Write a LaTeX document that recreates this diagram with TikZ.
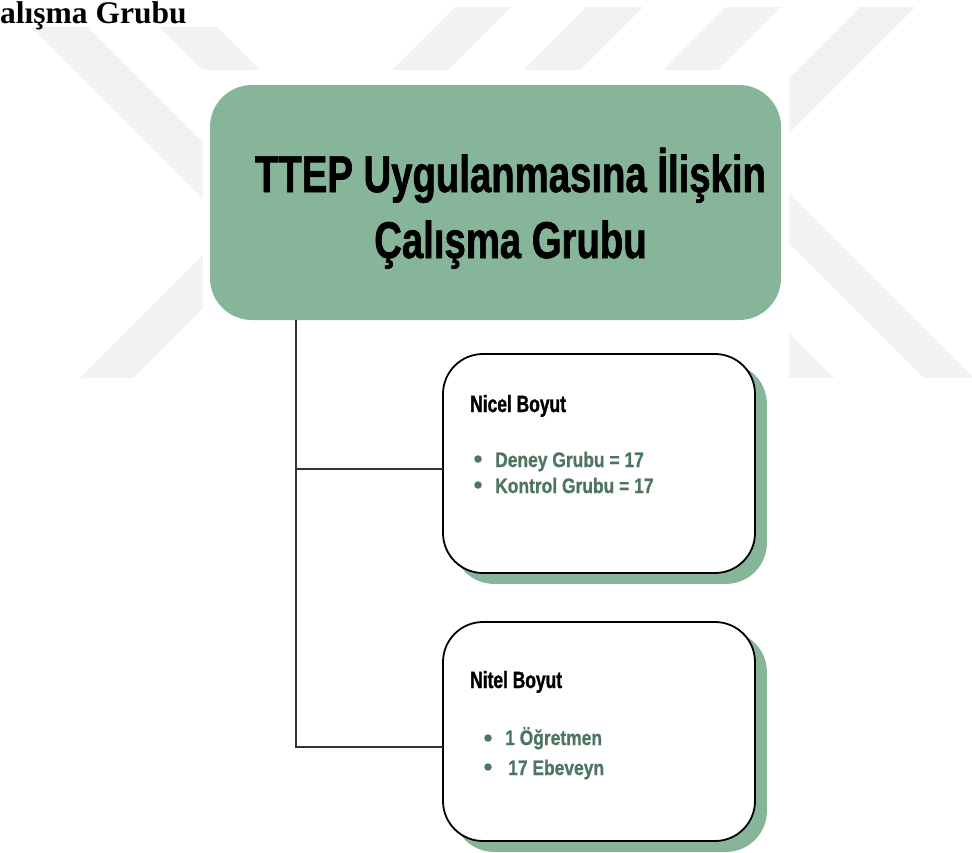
\documentclass[tikz,border=0pt]{standalone}
\usepackage{fontspec}
\setmainfont{Liberation Serif}
\newfontfamily\oswA{Liberation Sans}[UprightFont=* Bold, FakeStretch=0.741, FakeBold=1.2]
\newfontfamily\oswB{Liberation Sans}[UprightFont=* Bold, FakeStretch=0.83, FakeBold=0.8]
\usetikzlibrary{calc,shadows}
\definecolor{wm}{RGB}{242,242,242}
\definecolor{sage}{RGB}{135,181,153}
\definecolor{leaf}{RGB}{78,117,94}
\definecolor{ink}{RGB}{51,51,51}
\tikzset{
  wmark/.style={fill=wm,draw=none},
  topbox/.style={rectangle,rounded corners=42pt,fill=sage,draw=none,
    minimum width=571pt,minimum height=235pt,inner sep=0pt,outer sep=0pt},
  card/.style={rectangle,rounded corners=40pt,fill=white,draw=black,line width=1.8pt,
    minimum width=312pt,minimum height=219pt,inner sep=0pt,outer sep=0pt,
    copy shadow={shadow xshift=11pt,shadow yshift=-10pt,fill=sage,draw=sage}},
  ttl/.style={font=\oswA\fontsize{51.7}{60}\selectfont,text=black,inner sep=0pt},
  hd/.style={font=\oswA\fontsize{23.5}{28}\selectfont,text=black,inner sep=0pt,anchor=base west},
  item/.style={font=\oswB\fontsize{21}{25}\selectfont,text=leaf,inner sep=0pt,anchor=base west},
  dot/.style={circle,fill=leaf,draw=none,minimum size=7.5pt,inner sep=0pt},
  conn/.style={draw=ink,line width=2pt},
}
\begin{document}
\begin{tikzpicture}[x=1pt,y=-1pt]
\useasboundingbox (0,0) rectangle (972,852);
% watermark
\fill[wmark] (31,27) -- (88,27) -- (260,199) -- (203,199) -- cycle;
\fill[wmark] (160,27) -- (217,27) -- (290,100) -- (233,100) -- cycle;
\fill[wmark] (80,378) -- (133,378) -- (283,228) -- (230,228) -- cycle;
\fill[wmark] (455,7) -- (511,7) -- (438,80) -- (382,80) -- cycle;
\fill[wmark] (586,7) -- (643,7) -- (570,80) -- (513,80) -- cycle;
\fill[wmark] (726,7) -- (781,7) -- (708,80) -- (653,80) -- cycle;
\fill[wmark] (860,7) -- (915,7) -- (765,157) -- (710,157) -- cycle;
\fill[wmark] (696,150) -- (746,150) -- (974,378) -- (924,378) -- cycle;
\fill[wmark] (700,300) -- (756,300) -- (834,378) -- (778,378) -- cycle;
\fill[white] (0,0) rectangle (212,27);
\fill[white] (203,70) rectangle (789,852);
% page heading
\node[anchor=base west,font=\bfseries\fontsize{31.5}{36}\selectfont,inner sep=0pt] (cap) at (0,23) {alışma Grubu};
% main box
\node[topbox] (top) at (495.5,202.5) {};
\node[ttl,anchor=base] (t1) at (510.5,192) {TTEP Uygulanmasına İlişkin};
\node[ttl,anchor=base] (t2) at (510.5,258) {Çalışma Grubu};
% cards
\node[card] (b1) at (599,463.5) {};
\node[card] (b2) at (599,731.5) {};
% connectors
\coordinate (trunk) at ($(top.south west)+(86,0)$);
\coordinate (j1) at ($(b1.west)+(0,5.5)$);
\coordinate (j2) at ($(b2.west)+(0,15.5)$);
\draw[conn] (trunk) |- (j2);
\draw[conn] (trunk |- j1) -- (j1);
% card 1 content
\node[hd] (h1) at ($(b1.north west)+(27,58)$) {Nicel Boyut};
\node[dot] (d11) at ($(b1.north west)+(35,105)$) {};
\node[item] (i11) at ($(b1.north west)+(52,113)$) {Deney Grubu = 17};
\node[dot] (d12) at ($(b1.north west)+(35,131)$) {};
\node[item] (i12) at ($(b1.north west)+(52,139)$) {Kontrol Grubu = 17};
% card 2 content
\node[hd] (h2) at ($(b2.north west)+(27,66)$) {Nitel Boyut};
\node[dot] (d21) at ($(b2.north west)+(45,116)$) {};
\node[item] (i21) at ($(b2.north west)+(62,123)$) {1 Öğretmen};
\node[dot] (d22) at ($(b2.north west)+(45,145)$) {};
\node[item] (i22) at ($(b2.north west)+(65,153)$) {17 Ebeveyn};
\end{tikzpicture}
\end{document}
